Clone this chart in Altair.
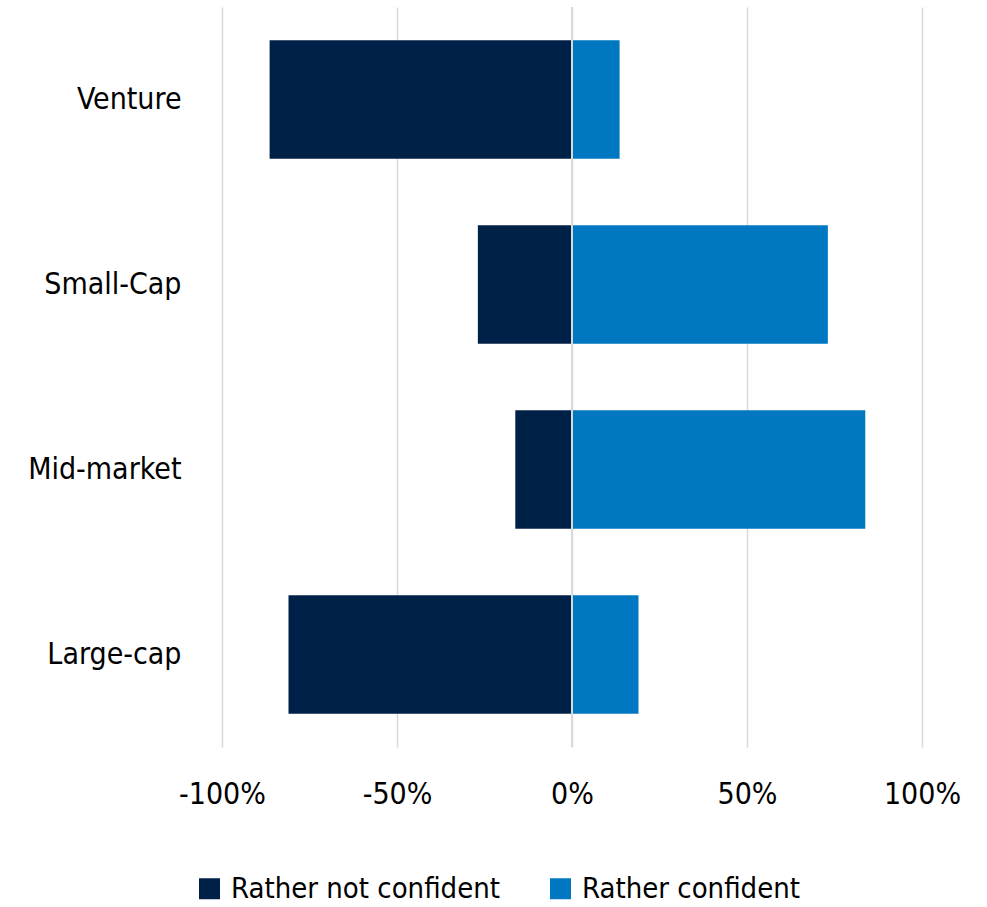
import altair as alt
import pandas as pd

categories = ["Venture", "Small-Cap", "Mid-market", "Large-cap"]
not_confident = [-86.4, -26.9, -16.2, -81.0]
confident = [13.6, 73.1, 83.8, 19.0]
series = ["Rather not confident", "Rather confident"]
colors = ["#002147", "#0078C1"]
tick_values = [-100, -50, 0, 50, 100]

rows = []
for c, n, p in zip(categories, not_confident, confident):
    rows.append({"category": c, "series": series[0], "value": n})
    rows.append({"category": c, "series": series[1], "value": p})
df = pd.DataFrame(rows)

FONT = "DejaVu Sans Condensed, DejaVu Sans, sans-serif"
FS = 30

bars = alt.Chart(df).mark_bar().encode(
    y=alt.Y("category:N", sort=categories,
            scale=alt.Scale(paddingInner=0.36, paddingOuter=0.18),
            axis=alt.Axis(title=None, ticks=False, domain=False, labelFontSize=FS,
                          labelColor="#000000", labelFont=FONT, labelPadding=41,
                          labelLimit=300, grid=False)),
    x=alt.X("value:Q", scale=alt.Scale(domain=[-100, 100], nice=False),
            stack=None,
            axis=alt.Axis(title=None, values=tick_values, ticks=False, domain=False,
                          grid=True, gridColor="#d9d9d9", gridWidth=1.5,
                          labelExpr="toString(datum.value) + '%'", labelFlush=False,
                          labelFontSize=FS, labelColor="#000000", labelFont=FONT,
                          labelPadding=32)),
    color=alt.Color("series:N", sort=series,
                    scale=alt.Scale(domain=series, range=colors),
                    legend=alt.Legend(title=None, orient="none", direction="horizontal",
                                      legendX=-27, legendY=867,
                                      symbolType="square", symbolSize=441,
                                      symbolStrokeWidth=0, labelFontSize=29,
                                      labelFont=FONT, labelColor="#000000",
                                      labelLimit=400,
                                      labelOffset=7, columnPadding=46)),
)

zero = alt.Chart(pd.DataFrame({"z": [0]})).mark_rule(color="#d9d9d9", strokeWidth=2).encode(
    x=alt.X("z:Q")
)

chart = alt.layer(bars, zero).properties(
    width=700, height=740,
    autosize=alt.AutoSizeParams(type="none"),
    padding={"left": 222, "top": 7, "right": 65, "bottom": 160},
).configure_view(stroke=None)

chart.save("out.html", embed_options={"renderer": "svg", "actions": False})
